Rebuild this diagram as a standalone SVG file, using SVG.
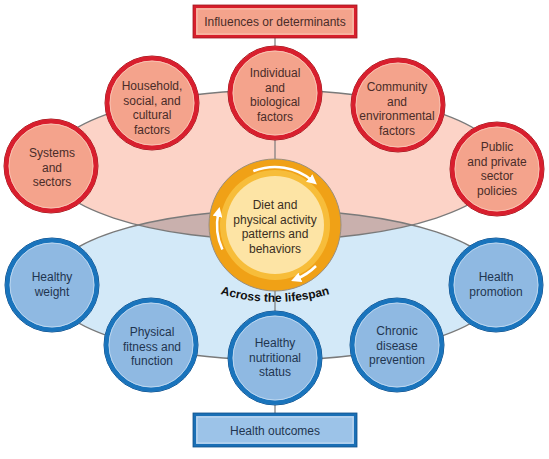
<svg xmlns="http://www.w3.org/2000/svg" width="549" height="459" viewBox="0 0 549 459">
<defs>
<style>
text{font-family:"Liberation Sans",Arial,sans-serif;font-size:12px;text-anchor:middle}
.rt{fill:#4a2c28}
.bt{fill:#1f3550}
.ell{stroke:#7a7a7a;stroke-width:1.3;fill:none}
.con{stroke:#7a7a7a;stroke-width:1.2}
.rOut{fill:#f4a38c;stroke:#9e1a22;stroke-width:1}
.rBand{fill:none;stroke:#d81f2e;stroke-width:4.5}
.rIn{fill:none;stroke:#f9c2b2;stroke-width:1}
.bOut{fill:#8fb9e2;stroke:#11508a;stroke-width:1}
.bBand{fill:none;stroke:#1a74bc;stroke-width:4.5}
.bIn{fill:none;stroke:#bcd7f0;stroke-width:1}
.arr{fill:none;stroke:#fff;stroke-width:2.5;marker-end:url(#ah)}
</style>
<marker id="ah" markerUnits="userSpaceOnUse" markerWidth="10" markerHeight="10" refX="4" refY="5" orient="auto">
<path d="M0,0 L10,5 L0,10 z" fill="#fff"/>
</marker>
<clipPath id="blueClip"><ellipse cx="275" cy="285" rx="228" ry="75"/></clipPath>
<path id="arcText" d="M195,284.3 A190,190 0 0 0 355,284.3"/>
</defs>

<g id="ellipses">
<ellipse cx="275" cy="285" rx="228" ry="75" fill="#d3e9f8"/>
<ellipse cx="275" cy="165" rx="228" ry="75" fill="#fcd3c7"/>
<ellipse cx="275" cy="165" rx="228" ry="75" fill="#c9b0ad" clip-path="url(#blueClip)"/>
<ellipse class="ell" cx="275" cy="285" rx="228" ry="75"/>
<ellipse class="ell" cx="275" cy="165" rx="228" ry="75"/>
</g>

<g id="connectors">
<line class="con" x1="275" y1="37" x2="275" y2="48"/>
<line class="con" x1="275" y1="138" x2="275" y2="160"/>
<line class="con" x1="275" y1="291" x2="275" y2="312"/>
<line class="con" x1="275" y1="404" x2="275" y2="414"/>
</g>

<g id="influences">
<rect x="194.5" y="6.5" width="161" height="30" fill="#f4a38c" stroke="#d71f2c" stroke-width="3"/>
<rect x="193" y="5" width="164" height="33" fill="none" stroke="#9e1a22" stroke-width="0.8"/>
<rect x="197" y="9" width="156" height="25" fill="none" stroke="#f9c2b2" stroke-width="1"/>
<text class="rt" x="275" y="26">Influences or determinants</text>
</g>

<g id="individual">
<circle class="rOut" cx="275" cy="93" r="47"/><circle class="rBand" cx="275" cy="93" r="44.5"/><circle class="rIn" cx="275" cy="93" r="42"/>
<text class="rt" x="275" y="77">Individual</text><text class="rt" x="275" y="91.5">and</text><text class="rt" x="275" y="106">biological</text><text class="rt" x="275" y="120.5">factors</text>
</g>

<g id="household">
<circle class="rOut" cx="152" cy="103" r="47"/><circle class="rBand" cx="152" cy="103" r="44.5"/><circle class="rIn" cx="152" cy="103" r="42"/>
<text class="rt" x="152" y="90">Household,</text><text class="rt" x="152" y="104.5">social, and</text><text class="rt" x="152" y="119">cultural</text><text class="rt" x="152" y="133.5">factors</text>
</g>

<g id="systems">
<circle class="rOut" cx="51" cy="166" r="47"/><circle class="rBand" cx="51" cy="166" r="44.5"/><circle class="rIn" cx="51" cy="166" r="42"/>
<text class="rt" x="52" y="157">Systems</text><text class="rt" x="52" y="171.5">and</text><text class="rt" x="52" y="186">sectors</text>
</g>

<g id="community">
<circle class="rOut" cx="398" cy="105" r="47"/><circle class="rBand" cx="398" cy="105" r="44.5"/><circle class="rIn" cx="398" cy="105" r="42"/>
<text class="rt" x="397" y="91">Community</text><text class="rt" x="397" y="105.5">and</text><text class="rt" x="397" y="120">environmental</text><text class="rt" x="397" y="134.5">factors</text>
</g>

<g id="public">
<circle class="rOut" cx="497" cy="169" r="47"/><circle class="rBand" cx="497" cy="169" r="44.5"/><circle class="rIn" cx="497" cy="169" r="42"/>
<text class="rt" x="497" y="151">Public</text><text class="rt" x="497" y="165.5">and private</text><text class="rt" x="497" y="180">sector</text><text class="rt" x="497" y="194.5">policies</text>
</g>

<g id="diet">
<circle cx="275" cy="225" r="66" fill="#f0a116" stroke="#9a8f80" stroke-width="1"/>
<circle cx="275" cy="225" r="55" fill="#f7bd3a"/>
<circle cx="275" cy="225" r="49" fill="#fde4a5"/>
<path class="arr" d="M253.3,171.2 A58,58 0 0 1 312.3,180.6"/>
<path class="arr" d="M222.4,249.5 A58,58 0 0 1 218.3,212.9"/>
<path class="arr" d="M316,266 A58,58 0 0 1 296.7,278.8"/>
<text fill="#3a2e22" x="275" y="209">Diet and</text><text fill="#3a2e22" x="275" y="223.5">physical activity</text><text fill="#3a2e22" x="275" y="238">patterns and</text><text fill="#3a2e22" x="275" y="252.5">behaviors</text>
</g>

<g id="lifespan">
<text font-weight="bold" font-size="12.5" fill="#111"><textPath href="#arcText" startOffset="50%">Across the lifespan</textPath></text>
</g>

<g id="weight">
<circle class="bOut" cx="52" cy="285" r="47"/><circle class="bBand" cx="52" cy="285" r="44.5"/><circle class="bIn" cx="52" cy="285" r="42"/>
<text class="bt" x="52" y="281">Healthy</text><text class="bt" x="52" y="295.5">weight</text>
</g>

<g id="fitness">
<circle class="bOut" cx="151" cy="345" r="47"/><circle class="bBand" cx="151" cy="345" r="44.5"/><circle class="bIn" cx="151" cy="345" r="42"/>
<text class="bt" x="152" y="336">Physical</text><text class="bt" x="152" y="350.5">fitness and</text><text class="bt" x="152" y="365">function</text>
</g>

<g id="nutrition">
<circle class="bOut" cx="275" cy="358" r="47"/><circle class="bBand" cx="275" cy="358" r="44.5"/><circle class="bIn" cx="275" cy="358" r="42"/>
<text class="bt" x="275" y="347">Healthy</text><text class="bt" x="275" y="361.5">nutritional</text><text class="bt" x="275" y="376">status</text>
</g>

<g id="chronic">
<circle class="bOut" cx="397" cy="345" r="47"/><circle class="bBand" cx="397" cy="345" r="44.5"/><circle class="bIn" cx="397" cy="345" r="42"/>
<text class="bt" x="397" y="335">Chronic</text><text class="bt" x="397" y="349.5">disease</text><text class="bt" x="397" y="364">prevention</text>
</g>

<g id="promotion">
<circle class="bOut" cx="496" cy="285" r="47"/><circle class="bBand" cx="496" cy="285" r="44.5"/><circle class="bIn" cx="496" cy="285" r="42"/>
<text class="bt" x="496" y="281">Health</text><text class="bt" x="496" y="295.5">promotion</text>
</g>

<g id="outcomes">
<rect x="194.5" y="414.5" width="161" height="31" fill="#9cc3e8" stroke="#1a6fb5" stroke-width="3"/>
<rect x="193" y="413" width="164" height="34" fill="none" stroke="#11508a" stroke-width="0.8"/>
<rect x="197" y="417" width="156" height="26" fill="none" stroke="#c4dbf1" stroke-width="1"/>
<text class="bt" x="275" y="434.5">Health outcomes</text>
</g>
</svg>
